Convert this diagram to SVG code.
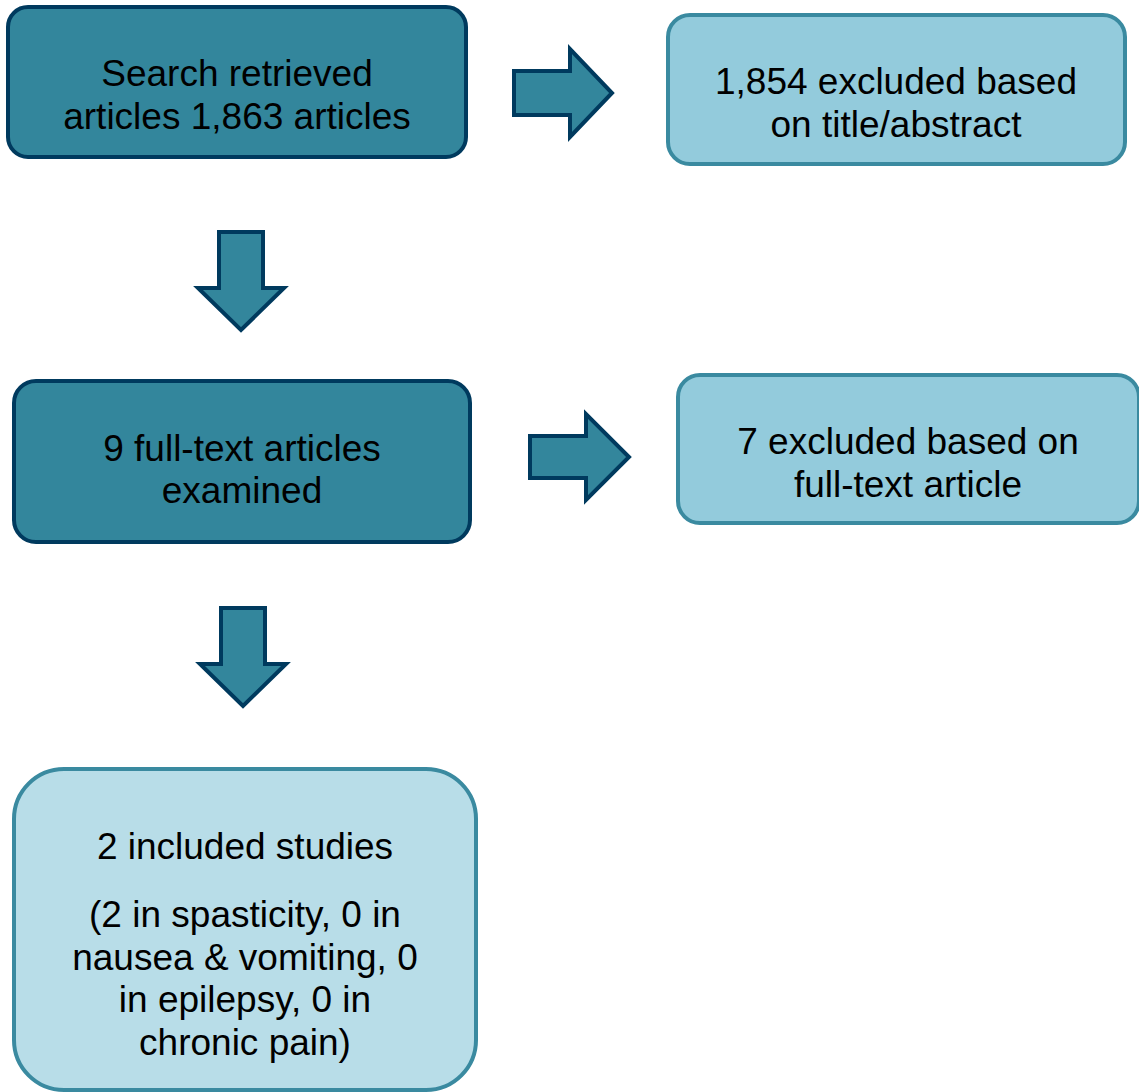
<svg xmlns="http://www.w3.org/2000/svg" width="1139" height="1092" viewBox="0 0 1139 1092">
<style>
.dark{fill:#33869c;stroke:#003a5e;stroke-width:4}
.light{fill:#93cbdc;stroke:#3a8aa0;stroke-width:4}
.lighter{fill:#b8dde8;stroke:#3a8aa0;stroke-width:4}
.arr{fill:#33869c;stroke:#003a5e;stroke-width:4;stroke-linejoin:miter}
text{font-family:"Liberation Sans",Arial,sans-serif;font-size:37px;fill:#000;text-anchor:middle}
</style>
<rect width="1139" height="1092" fill="#ffffff"/>
<g id="node-search">
<rect class="dark" x="8" y="7" width="458" height="150" rx="20"/>
<text x="237" y="86">Search retrieved</text>
<text x="237" y="129">articles 1,863 articles</text>
</g>
<g id="node-excluded1">
<rect class="light" x="668" y="15" width="457" height="149" rx="22"/>
<text x="896" y="94">1,854 excluded based</text>
<text x="896" y="137">on title/abstract</text>
</g>
<g id="node-fulltext">
<rect class="dark" x="14" y="381" width="456" height="161" rx="22"/>
<text x="242" y="461">9 full-text articles</text>
<text x="242" y="503">examined</text>
</g>
<g id="node-excluded2">
<rect class="light" x="678" y="375" width="461" height="148" rx="22"/>
<text x="908" y="454">7 excluded based on</text>
<text x="908" y="497">full-text article</text>
</g>
<g id="node-included">
<rect class="lighter" x="14" y="769" width="462" height="321" rx="50"/>
<text x="245" y="859">2 included studies</text>
<text x="245" y="927">(2 in spasticity, 0 in</text>
<text x="245" y="970">nausea &amp; vomiting, 0</text>
<text x="245" y="1012">in epilepsy, 0 in</text>
<text x="245" y="1055">chronic pain)</text>
</g>
<g id="connectors">
<path class="arr" d="M514,71 H570 V49 L612,93 L570,137 V115 H514 Z"/>
<path class="arr" d="M219,232 H263 V288 H284 L241,330 L198,288 H219 Z"/>
<path class="arr" d="M530,436 H586 V414 L629,457 L586,500 V478 H530 Z"/>
<path class="arr" d="M221,608 H265 V664 H286 L243,706 L200,664 H221 Z"/>
</g>
</svg>
